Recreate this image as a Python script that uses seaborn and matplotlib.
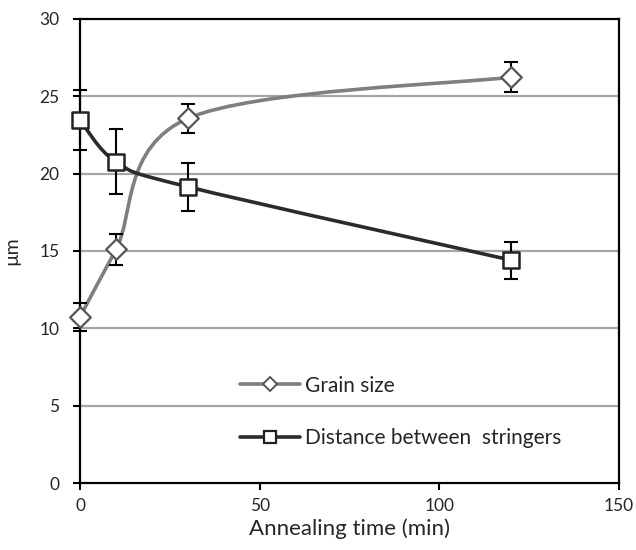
import numpy as np
import matplotlib
matplotlib.use("Agg")
import matplotlib.pyplot as plt
from matplotlib.path import Path
from matplotlib.patches import PathPatch
from matplotlib.lines import Line2D
import seaborn as sns
import pandas as pd

# Annealing times (min)
times = [0, 10, 30, 120]
# Grain size (µm) and its error
grain = [10.75, 15.1, 23.57, 26.24]
grain_err = [0.9, 1.0, 0.95, 0.95]
# Distance between stringers (µm) and its error
dist = [23.46, 20.77, 19.15, 14.41]
dist_err = [1.95, 2.1, 1.55, 1.2]

x_ticks = [0, 50, 100, 150]
y_ticks = [0, 5, 10, 15, 20, 25, 30]

sns.set_theme(style="white")
plt.rcParams["font.family"] = ["Lato", "DejaVu Sans"]

fig = plt.figure(figsize=(6.36, 5.5), dpi=100)
ax = fig.add_axes([0.126, 0.1218, 0.847, 0.8437])


def smooth_path(xs, ys):
    """Cubic Bezier path through the points (Catmull-Rom style control points)."""
    pts = np.column_stack([xs, ys]).astype(float)
    n = len(pts)
    verts = [pts[0]]
    codes = [Path.MOVETO]
    for i in range(n - 1):
        p0 = pts[i - 1] if i > 0 else pts[i]
        p1 = pts[i]
        p2 = pts[i + 1]
        p3 = pts[i + 2] if i + 2 < n else pts[i + 1]
        c1 = p1 + (p2 - p0) / 6.0
        c2 = p2 - (p3 - p1) / 6.0
        verts += [c1, c2, p2]
        codes += [Path.CURVE4] * 3
    return Path(verts, codes)


grain_col = "#7f7f7f"
dist_col = "#2b2b2b"
text_col = "#262626"

ax.add_patch(PathPatch(smooth_path(times, grain), fill=False, edgecolor=grain_col,
                       lw=2.6, zorder=3))
ax.add_patch(PathPatch(smooth_path(times, dist), fill=False, edgecolor=dist_col,
                       lw=2.6, zorder=3))

for ys, es in ((grain, grain_err), (dist, dist_err)):
    eb = ax.errorbar(times, ys, yerr=es, fmt="none", ecolor="black",
                     elinewidth=1.5, capsize=5, capthick=1.5, zorder=4)
    for art in eb.lines[1] + eb.lines[2]:
        art.set_clip_on(False)

df = pd.DataFrame({"t": times, "grain": grain, "dist": dist})
sns.scatterplot(data=df, x="t", y="grain", marker="D", s=110, color="white",
                edgecolor="#555555", linewidth=1.6, ax=ax, zorder=5, clip_on=False)
sns.scatterplot(data=df, x="t", y="dist", marker="s", s=130, color="white",
                edgecolor="#222222", linewidth=1.8, ax=ax, zorder=5, clip_on=False)

ax.set_xlim(0, 150)
ax.set_ylim(0, 30)
ax.set_xticks(x_ticks)
ax.set_yticks(y_ticks)
ax.set_xticklabels([str(v) for v in x_ticks], fontsize=12.5, color=text_col)
ax.set_yticklabels([str(v) for v in y_ticks], fontsize=12.5, color=text_col)
ax.tick_params(axis="both", direction="out", length=5, width=1.5, color="black",
               bottom=True, left=True, pad=6)
ax.tick_params(axis="y", pad=10)

for yv in y_ticks[1:-1]:
    ax.axhline(yv, color="#a6a6a6", lw=1.6, zorder=1)

for s in ax.spines.values():
    s.set_color("black")
    s.set_linewidth(1.6)

ax.set_xlabel("Annealing time (min)", fontsize=16, color=text_col, labelpad=3)
ax.set_ylabel("µm", fontsize=14, color=text_col)
ax.yaxis.set_label_coords(-0.112, 0.5)

handles = [
    Line2D([], [], color=grain_col, lw=2.6, marker="D", markersize=7,
           markerfacecolor="white", markeredgecolor="#555555", markeredgewidth=1.4),
    Line2D([], [], color=dist_col, lw=2.6, marker="s", markersize=9,
           markerfacecolor="white", markeredgecolor="#222222", markeredgewidth=1.6),
]
ax.legend(handles, ["Grain size", "Distance between  stringers"], loc="upper left",
          bbox_to_anchor=(0.262, 0.272), frameon=False, fontsize=15,
          handlelength=2.9, labelspacing=1.55, handletextpad=0.2)

fig.savefig("out.png", dpi=100)
